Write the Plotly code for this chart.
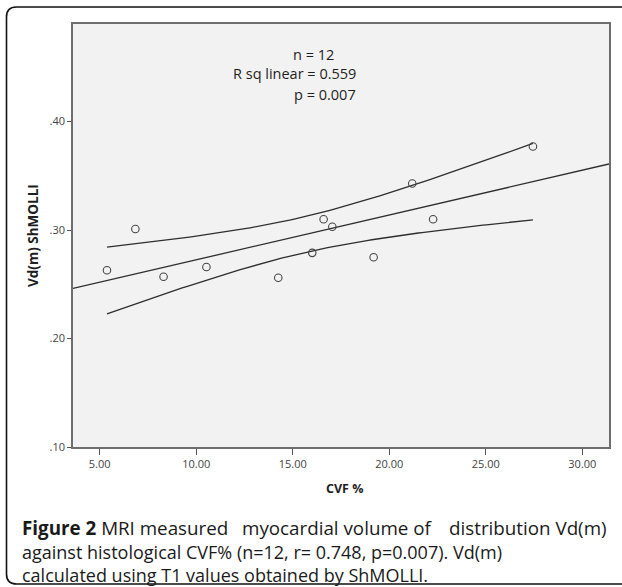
import numpy as np
import plotly.graph_objects as go

# ---- data ----
cvf = [5.38, 6.85, 8.31, 10.53, 14.25, 16.01, 16.60, 17.05, 19.19, 21.19, 22.27, 27.44]
vdm = [0.263, 0.301, 0.257, 0.266, 0.256, 0.279, 0.310, 0.303, 0.275, 0.343, 0.310, 0.377]
x_ticks = [5, 10, 15, 20, 25, 30]
x_tick_labels = ["5.00", "10.00", "15.00", "20.00", "25.00", "30.00"]
y_ticks = [0.10, 0.20, 0.30, 0.40]
y_tick_labels = [".10", ".20", ".30", ".40"]
stats_lines = ["n = 12", "R sq linear = 0.559", "p = 0.007"]
caption_line1 = ["<b>Figure 2</b> MRI measured", "myocardial volume of", "distribution Vd(m)"]
caption_rest = [
    "against histological CVF% (n=12, r= 0.748, p=0.007). Vd(m)",
    "calculated using T1 values obtained by ShMOLLI.",
]
X_RANGE = [3.62, 31.38]
Y_RANGE = [0.10, 0.49]
T_CRIT = 2.228  # t(0.975, df=10)

# ---- linear fit and 95% confidence band of the mean ----
xa = np.array(cvf)
ya = np.array(vdm)
slope, intercept = np.polyfit(xa, ya, 1)
n = len(xa)
resid = ya - (slope * xa + intercept)
s = np.sqrt(np.sum(resid ** 2) / (n - 2))
sxx = np.sum((xa - xa.mean()) ** 2)

x_fit = np.array(X_RANGE)
y_fit = slope * x_fit + intercept
x_band = np.linspace(xa.min(), xa.max(), 120)
se = s * np.sqrt(1.0 / n + (x_band - xa.mean()) ** 2 / sxx)
y_mid = slope * x_band + intercept
y_up = y_mid + T_CRIT * se
y_lo = y_mid - T_CRIT * se

LINE_COL = "#2e2e2e"
fig = go.Figure()
fig.add_trace(go.Scatter(x=x_fit, y=y_fit, mode="lines",
                         line=dict(color=LINE_COL, width=1.3), hoverinfo="skip"))
fig.add_trace(go.Scatter(x=x_band, y=y_up, mode="lines",
                         line=dict(color=LINE_COL, width=1.3), hoverinfo="skip"))
fig.add_trace(go.Scatter(x=x_band, y=y_lo, mode="lines",
                         line=dict(color=LINE_COL, width=1.3), hoverinfo="skip"))
fig.add_trace(go.Scatter(x=cvf, y=vdm, mode="markers",
                         marker=dict(symbol="circle-open", size=7.5,
                                     color="#444444", line=dict(width=1.1))))

L, R, T, B = 73, 13, 24, 140
W, H = 622, 587
PW, PH = W - L - R, H - T - B


def px(x):
    return (x - L) / PW


def py(y):
    return (H - B - y) / PH


TXT = "Open Sans, Noto Sans, DejaVu Sans, sans-serif"
annotations = []
# stats box text (right edges measured on the picture)
stat_pos = [(336, 54), (358, 74), (358, 94)]
for txt, (ax_, ay_) in zip(stats_lines, stat_pos):
    annotations.append(dict(text=txt, x=px(ax_), y=py(ay_), xref="paper", yref="paper",
                            xanchor="right", yanchor="middle", showarrow=False,
                            font=dict(family=TXT, size=14.5, color="#1e1e1e")))
# axis titles
annotations.append(dict(text="<b>CVF %</b>", x=px(344), y=py(488), xref="paper", yref="paper",
                        xanchor="center", yanchor="middle", showarrow=False,
                        font=dict(family=TXT, size=12.5, color="#1e1e1e")))
annotations.append(dict(text="<b>Vd(m) ShMOLLI</b>", x=px(33), y=py(236), xref="paper", yref="paper",
                        xanchor="center", yanchor="middle", showarrow=False, textangle=-90,
                        font=dict(family=TXT, size=13.5, color="#1e1e1e")))
# caption: first line justified across the width
CAP1 = dict(family=TXT, size=18.8, color="#1a1a1a")
CAP = dict(family=TXT, size=18, color="#1a1a1a")
line1_pos = [(20, "left"), (337, "center"), (609, "right")]
for txt, (cx, anc) in zip(caption_line1, line1_pos):
    annotations.append(dict(text=txt, x=px(cx), y=py(528), xref="paper", yref="paper",
                            xanchor=anc, yanchor="middle", showarrow=False, font=CAP1))
for txt, cy in zip(caption_rest, [552, 575]):
    annotations.append(dict(text=txt, x=px(20), y=py(cy), xref="paper", yref="paper",
                            xanchor="left", yanchor="middle", showarrow=False, font=CAP))

# outer rounded frame (right side runs off the picture)
fx0, fy0, fy1, rr, fx1 = 6.5, 7, 584, 10, 660
path = (f"M {px(fx1)},{py(fy0)} L {px(fx0 + rr)},{py(fy0)} "
        f"Q {px(fx0)},{py(fy0)} {px(fx0)},{py(fy0 + rr)} "
        f"L {px(fx0)},{py(fy1 - rr)} "
        f"Q {px(fx0)},{py(fy1)} {px(fx0 + rr)},{py(fy1)} "
        f"L {px(fx1)},{py(fy1)}")
shapes = [dict(type="path", path=path, xref="paper", yref="paper",
               line=dict(color="#111111", width=1.6))]

fig.update_layout(
    width=W, height=H, margin=dict(l=L, r=R, t=T, b=B),
    paper_bgcolor="white", plot_bgcolor="#f2f2f2",
    showlegend=False, annotations=annotations, shapes=shapes,
    xaxis=dict(range=X_RANGE, tickvals=x_ticks, ticktext=x_tick_labels,
               showgrid=False, zeroline=False, showline=True, mirror=True,
               linecolor="#6e6e6e", linewidth=1.6, ticks="outside", ticklen=6,
               tickcolor="#555555", tickwidth=1.3,
               tickfont=dict(family=TXT, size=11, color="#444444")),
    yaxis=dict(range=Y_RANGE, tickvals=y_ticks, ticktext=y_tick_labels,
               showgrid=False, zeroline=False, showline=True, mirror=True,
               linecolor="#6e6e6e", linewidth=1.6, ticks="outside", ticklen=4,
               tickcolor="#555555", tickwidth=1.3,
               tickfont=dict(family=TXT, size=11, color="#444444")),
)

# remove the browser's default 8px page margin so the figure fills the window
fig.write_html("out.html", config={"displayModeBar": False},
               post_script="document.body.style.margin='0';document.body.style.overflow='hidden';")
